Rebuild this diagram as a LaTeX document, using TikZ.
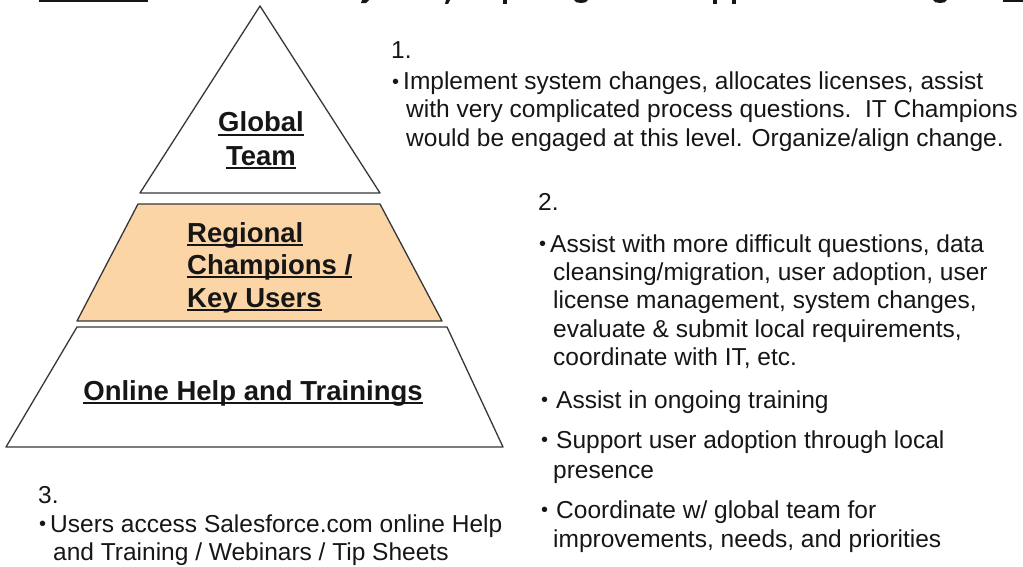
\documentclass[tikz,border=0pt]{standalone}
\usepackage{fontspec}
\setmainfont{Liberation Sans}
\definecolor{peach}{RGB}{252,213,166}
\definecolor{edge}{RGB}{55,55,55}
\definecolor{ink}{RGB}{22,22,22}
% underlined bold label: rule sits a fixed distance under the baseline
\newsavebox\ulinebox
\newcommand\ulabel[1]{\sbox\ulinebox{#1}\rlap{\rule[-4pt]{\wd\ulinebox}{1.8pt}}\usebox\ulinebox}
% small list bullet followed by a given gap
\newcommand\blt[1]{\raisebox{1.2pt}{\fontsize{20}{20}\selectfont •}\hspace{#1}}
\tikzset{
  tier/.style={draw=edge, line width=1.3pt, line join=round},
  lbl/.style={font=\fontsize{27.5}{33}\selectfont\bfseries, text=ink, inner sep=0pt},
  body/.style={font=\fontsize{24.5}{28}\selectfont, text=ink, inner sep=0pt, anchor=base west},
  frag/.style={fill=ink, draw=none},
}
\begin{document}
\begin{tikzpicture}[x=1pt, y=-1pt]
\useasboundingbox (0,0) rectangle (1023,567);

% cropped heading: underline ends and descenders along the top edge
\fill[frag] (39,0.3) rectangle (148,2.4);
\fill[frag] (1003,0.3) rectangle (1023,2.4);
\fill[frag] (362,0) -- (369,0) -- (366,3.2) -- (361,3.2) -- cycle;
\fill[frag] (446,0) -- (450,0) -- (448,4) -- (445,4) -- cycle;
\fill[frag] (503,0) rectangle (507,4);
\fill[frag] (574,0) .. controls (575,4) and (587,4) .. (588,0) -- cycle;
\fill[frag] (713,0) rectangle (717,4);
\fill[frag] (732,0) rectangle (736,4);
\fill[frag] (933,0) .. controls (934,4) and (946,4) .. (947,0) -- cycle;

% pyramid tiers
\coordinate (apex) at (260,6);
\coordinate (gl) at (140,193);
\coordinate (gr) at (380,193);
\draw[tier, fill=white] (apex) -- (gr) -- (gl) -- cycle;

\coordinate (rtl) at (138,204);
\coordinate (rtr) at (380,204);
\coordinate (rbr) at (442,321);
\coordinate (rbl) at (77,321);
\draw[tier, fill=peach] (rtl) -- (rtr) -- (rbr) -- (rbl) -- cycle;

\coordinate (otl) at (77,327);
\coordinate (otr) at (447,327);
\coordinate (obr) at (503,447);
\coordinate (obl) at (6,447);
\draw[tier, fill=white] (otl) -- (otr) -- (obr) -- (obl) -- cycle;

% tier labels
\node[lbl, anchor=base] (glob1) at (261,132) {\ulabel{Global}};
\node[lbl, anchor=base] (glob2) at (261,165) {\ulabel{Team}};
\node[lbl, anchor=base west] (reg1) at (187,242) {\ulabel{Regional}};
\node[lbl, anchor=base west] (reg2) at (187,274) {\ulabel{Champions /}};
\node[lbl, anchor=base west] (reg3) at (187,307) {\ulabel{Key Users}};
\node[lbl, anchor=base] (onl) at (253,400) {\ulabel{Online Help and Trainings}};

% level 1 notes
\node[body] (n1) at (391,59) {1.};
\node[body] (n1a) at (392,90) {\blt{4pt}Implement system changes, allocates licenses, assist};
\node[body] (n1b) at (406,118) {with very complicated process questions.\ \ IT Champions};
\node[body] (n1c) at (406,147) {would be engaged at this level. Organize/align change.};

% level 2 notes
\node[body] (n2) at (538,210) {2.};
\node[body] (n2a) at (539,252) {\blt{4pt}Assist with more difficult questions, data};
\node[body] (n2b) at (553,280) {cleansing/migration, user adoption, user};
\node[body] (n2c) at (553,308) {license management, system changes,};
\node[body] (n2d) at (553,337) {evaluate \& submit local requirements,};
\node[body] (n2e) at (553,365) {coordinate with IT, etc.};
\node[body] (n2f) at (541,408) {\blt{8pt}Assist in ongoing training};
\node[body] (n2g) at (541,448) {\blt{8pt}Support user adoption through local};
\node[body] (n2h) at (553,478) {presence};
\node[body] (n2i) at (541,518) {\blt{8pt}Coordinate w/ global team for};
\node[body] (n2j) at (553,547) {improvements, needs, and priorities};

% level 3 notes
\node[body] (n3) at (38,503) {3.};
\node[body] (n3a) at (39,532) {\blt{4pt}Users access Salesforce.com online Help};
\node[body] (n3b) at (53,560) {and Training / Webinars / Tip Sheets};
\end{tikzpicture}
\end{document}
